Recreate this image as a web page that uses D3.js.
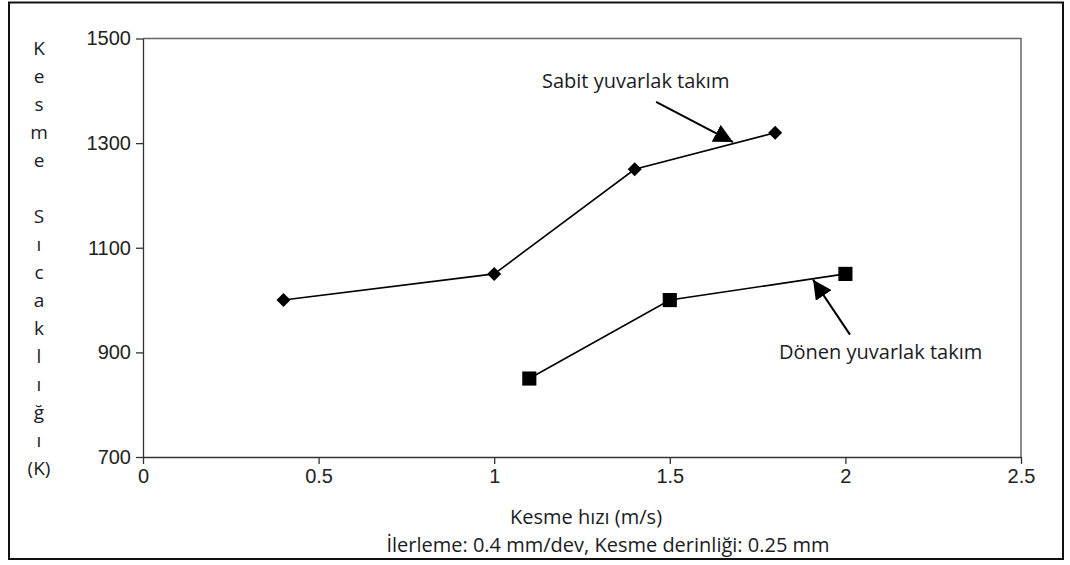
<!DOCTYPE html>
<html>
<head>
<meta charset="utf-8">
<script src="https://cdn.jsdelivr.net/npm/d3@7"></script>
<style>
  body { margin: 0; background: #fff; }
  svg { display: block; }
  .axis text { font-family: "Liberation Sans", Arial, sans-serif; font-size: 20px; fill: #222; }
  .axis path, .axis line { stroke: #333; stroke-width: 1.3px; }
  .note { font-family: "Open Sans", "Noto Sans", sans-serif; fill: #1b1b24; }
</style>
</head>
<body>
<div id="chart"></div>
<script>
// cutting speed (m/s) vs cutting temperature (K)
var sabitSpeed = [0.4, 1.0, 1.4, 1.8];
var sabitTemp  = [1000, 1050, 1250, 1320];
var donenSpeed = [1.1, 1.5, 2.0];
var donenTemp  = [850, 1000, 1050];

var xTicks = [0, 0.5, 1, 1.5, 2, 2.5];
var yTicks = [700, 900, 1100, 1300, 1500];

var yLabelLines = ['K', 'e', 's', 'm', 'e', '', 'S', 'ı', 'c', 'a', 'k', 'l', 'ı', 'ğ', 'ı', '(K)'];

var width = 1070, height = 565;
var margins = {top: 38.5, right: 49, bottom: 108, left: 143};

var svg = d3.select('#chart').append('svg')
  .attr('width', width)
  .attr('height', height);

// outer frame
svg.append('rect')
  .attr('x', 9).attr('y', 2.5)
  .attr('width', 1054).attr('height', 556.5)
  .attr('fill', 'none')
  .attr('stroke', '#111')
  .attr('stroke-width', 2);

var x = d3.scaleLinear().domain([0, 2.5]).range([margins.left, width - margins.right]);
var y = d3.scaleLinear().domain([700, 1500]).range([height - margins.bottom, margins.top]);

// plot box (top + right)
svg.append('path')
  .attr('d', 'M' + x(0) + ',' + y(1500) + 'H' + x(2.5) + 'V' + y(700))
  .attr('fill', 'none')
  .attr('stroke', '#666')
  .attr('stroke-width', 1.5);

svg.append('g')
  .attr('class', 'axis')
  .attr('transform', 'translate(' + x(0) + ',0)')
  .call(d3.axisLeft(y).tickValues(yTicks).tickSize(7).tickSizeOuter(0).tickPadding(5).tickFormat(d3.format('d')));

svg.append('g')
  .attr('class', 'axis')
  .attr('transform', 'translate(0,' + y(700) + ')')
  .call(d3.axisBottom(x).tickValues(xTicks).tickSize(7).tickSizeOuter(0).tickPadding(5).tickFormat(function (d) { return String(d); }));

// series
var line = d3.line().x(function (d) { return x(d[0]); }).y(function (d) { return y(d[1]); });
var sabit = d3.zip(sabitSpeed, sabitTemp);
var donen = d3.zip(donenSpeed, donenTemp);

svg.append('path').datum(sabit).attr('d', line)
  .attr('fill', 'none').attr('stroke', '#000').attr('stroke-width', 1.6);
svg.append('path').datum(donen).attr('d', line)
  .attr('fill', 'none').attr('stroke', '#000').attr('stroke-width', 1.6);

svg.selectAll('.dia').data(sabit).enter().append('path')
  .attr('class', 'dia')
  .attr('transform', function (d) { return 'translate(' + x(d[0]) + ',' + y(d[1]) + ') rotate(45)'; })
  .attr('d', d3.symbol().type(d3.symbolSquare).size(98))
  .attr('fill', '#000');

svg.selectAll('.sq').data(donen).enter().append('path')
  .attr('class', 'sq')
  .attr('transform', function (d) { return 'translate(' + x(d[0]) + ',' + y(d[1]) + ')'; })
  .attr('d', d3.symbol().type(d3.symbolSquare).size(200))
  .attr('fill', '#000');

// annotation arrows
svg.append('defs').append('marker')
  .attr('id', 'head')
  .attr('viewBox', '0 0 10 10')
  .attr('refX', 10).attr('refY', 5)
  .attr('markerWidth', 19).attr('markerHeight', 19)
  .attr('markerUnits', 'userSpaceOnUse')
  .attr('orient', 'auto')
  .append('path').attr('d', 'M0,0L10,5L0,10Z').attr('fill', '#000');

var arrows = [
  {from: [1.461, 1379], to: [1.68, 1302]},
  {from: [2.013, 934], to: [1.908, 1039]}
];
svg.selectAll('.arrow').data(arrows).enter().append('line')
  .attr('class', 'arrow')
  .attr('x1', function (d) { return x(d.from[0]); })
  .attr('y1', function (d) { return y(d.from[1]); })
  .attr('x2', function (d) { return x(d.to[0]); })
  .attr('y2', function (d) { return y(d.to[1]); })
  .attr('stroke', '#000').attr('stroke-width', 2)
  .attr('marker-end', 'url(#head)');

svg.append('text').attr('class', 'note')
  .attr('x', 542).attr('y', 88).attr('font-size', 20)
  .text('Sabit yuvarlak takım');
svg.append('text').attr('class', 'note')
  .attr('x', 779).attr('y', 359).attr('font-size', 20)
  .text('Dönen yuvarlak takım');

// axis titles
svg.append('text').attr('class', 'note')
  .attr('x', 586).attr('y', 524).attr('font-size', 20)
  .attr('text-anchor', 'middle')
  .text('Kesme hızı (m/s)');
svg.append('text').attr('class', 'note')
  .attr('x', 608).attr('y', 552).attr('font-size', 20)
  .attr('text-anchor', 'middle')
  .text('İlerleme: 0.4 mm/dev, Kesme derinliği: 0.25 mm');

svg.append('g').selectAll('text').data(yLabelLines).enter().append('text')
  .attr('class', 'note')
  .attr('x', 39)
  .attr('y', function (d, i) { return 55 + i * 28; })
  .attr('font-size', 19)
  .attr('text-anchor', 'middle')
  .text(function (d) { return d; });
</script>
</body>
</html>
